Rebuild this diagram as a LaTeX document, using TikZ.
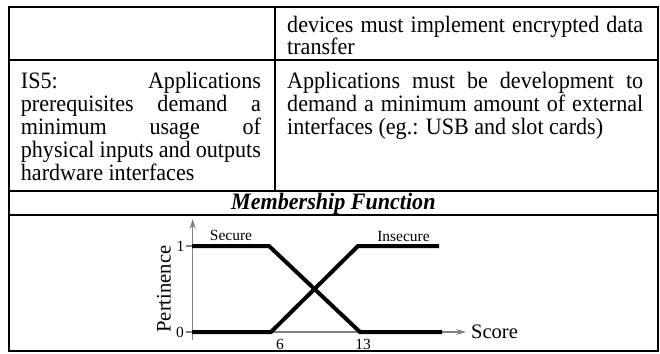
\documentclass[tikz,border=0pt]{standalone}
\usepackage{fontspec}
\setmainfont{Liberation Serif}[FakeStretch=0.94]
\newfontfamily\chartfont{Liberation Serif}
\usetikzlibrary{arrows.meta}
\newcommand\tfont{\fontsize{23.5}{23}\selectfont}
\newcommand\cfont{\chartfont\fontsize{15.5}{17}\selectfont}
\newcommand\afont{\chartfont\fontsize{20.6}{22}\selectfont}
\tikzset{
  tbl/.style={line width=2pt},
  txt/.style={anchor=base west, inner sep=0pt, font=\tfont},
  axisline/.style={draw=black!50, line width=1.1pt},
  axisarrow/.style={axisline, -{Stealth[length=10pt,width=6pt]}},
  mf/.style={line width=4pt, line join=miter},
  lbl/.style={inner sep=0pt, font=\cfont},
  albl/.style={inner sep=0pt, font=\afont}
}
\begin{document}
\begin{tikzpicture}[x=1pt,y=-1pt]
\useasboundingbox (0,0) rectangle (660,353);
% table
\draw[tbl] (9.3,7) rectangle (657.5,351);
\draw[tbl] (9.3,59.5) -- (657.5,59.5);
\draw[tbl] (9.3,190.5) -- (657.5,190.5);
\draw[tbl] (9.3,215) -- (657.5,215);
\draw[tbl] (275,7) -- (275,190.5);
% row 1
\node[txt] (r1a) at (287,32.5) {\makebox[356pt][s]{devices must implement encrypted data}};
\node[txt] (r1b) at (287,55) {transfer};
% row 2 left
\node[txt] (l1) at (20.7,88) {\makebox[240pt][s]{IS5: Applications}};
\node[txt] (l2) at (20.7,111) {\makebox[240pt][s]{prerequisites demand a}};
\node[txt] (l3) at (20.7,134) {\makebox[240pt][s]{minimum usage of}};
\node[txt] (l4) at (20.7,157) {\makebox[240pt][s]{physical inputs and outputs}};
\node[txt] (l5) at (20.7,180) {hardware interfaces};
% row 2 right
\node[txt] (r1) at (287,88) {\makebox[356pt][s]{Applications must be development to}};
\node[txt] (r2) at (287,111) {\makebox[356pt][s]{demand a minimum amount of external}};
\node[txt] (r3) at (287,134) {interfaces (eg.: USB and slot cards)};
% header
\node[inner sep=0pt, anchor=base, font=\tfont\bfseries\itshape] (mfh) at (333.4,209.5) {Membership Function};
% chart axes
\coordinate (ybot) at (192.7,340);
\coordinate (ytop) at (192.7,219);
\coordinate (xl) at (186,332);
\coordinate (xr) at (466,332);
\draw[axisarrow] (ybot) -- (ytop);
\draw[axisarrow] (xl) -- (xr);
\coordinate (t1a) at (186,246);
\coordinate (t1b) at (192.7,246);
\draw[axisline] (t1a) -- (t1b);
% membership curves
\draw[mf] (192,246) -- (269,246) -- (360,332) -- (442,332);
\draw[mf] (192,332) -- (271,332) -- (358,246) -- (439,246);
% labels
\node[lbl] (one) at (180.5,246) {1};
\node[lbl] (zero) at (180,332) {0};
\node[lbl] (six) at (280,344.5) {6};
\node[lbl] (thirteen) at (363,344.5) {13};
\node[lbl] (sec) at (231,235) {Secure};
\node[lbl] (insec) at (403.5,236) {Insecure};
\node[albl] (score) at (494.5,331.5) {Score};
\node[albl, rotate=90] (pert) at (164,289) {Pertinence};
\end{tikzpicture}
\end{document}
